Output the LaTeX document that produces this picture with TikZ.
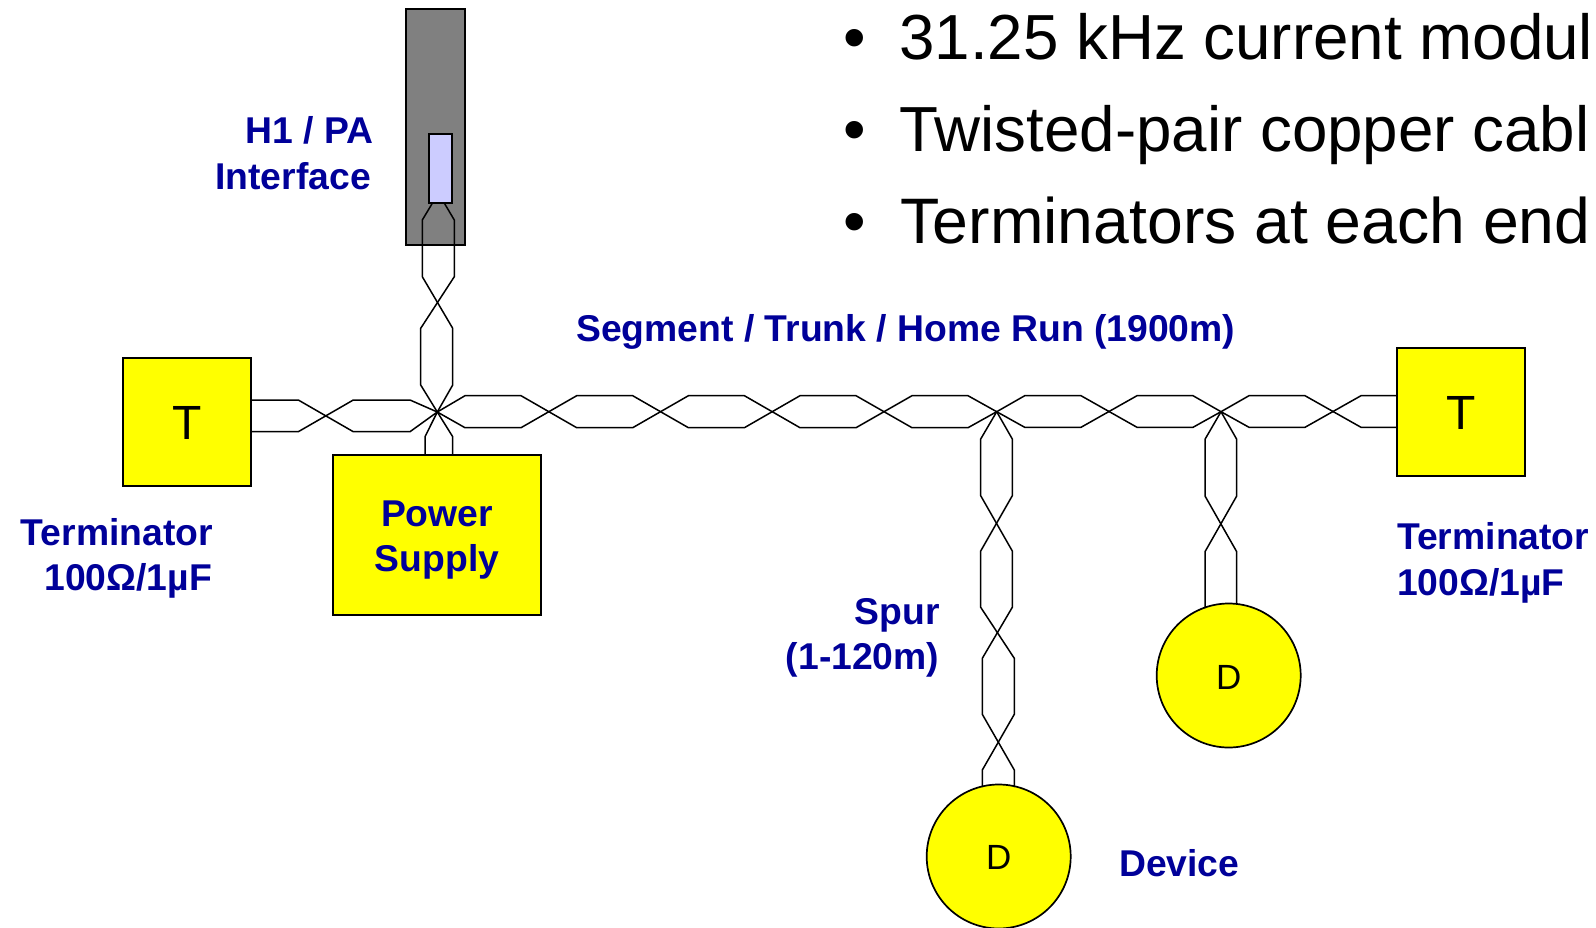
\documentclass[tikz,border=0pt]{standalone}
\usepackage{fontspec}
\setmainfont{Liberation Sans}
\definecolor{lblblue}{RGB}{0,0,153}
\definecolor{boxyellow}{RGB}{255,255,0}
\definecolor{slot}{RGB}{204,204,255}
\definecolor{housing}{RGB}{128,128,128}
\tikzset{
  wire/.style={draw=black,line width=1.5pt,line join=miter},
  box/.style={draw=black,line width=2pt,fill=boxyellow,inner sep=0pt,outer sep=0pt,anchor=north west},
  devc/.style={circle,draw=black,line width=1.7pt,fill=boxyellow,inner sep=0pt,outer sep=0pt,minimum size=144pt},
  lbl/.style={font=\fontsize{37.3}{45}\selectfont\bfseries,text=lblblue,inner sep=0pt},
  bigt/.style={font=\fontsize{48}{48}\selectfont,inner sep=0pt},
  smalld/.style={font=\fontsize{35}{35}\selectfont,inner sep=0pt},
  bul/.style={font=\fontsize{64.3}{64}\selectfont,inner sep=0pt,anchor=base west},
  bultight/.style={font=\fontsize{63.7}{64}\selectfont,inner sep=0pt,anchor=base west},
}
\begin{document}
\begin{tikzpicture}[x=1pt,y=-1pt]
\useasboundingbox (0,0) rectangle (1596,927);
\begin{scope}
\clip (0,0) rectangle (1596,927);
% housing
\node[draw=black,line width=2pt,fill=housing,inner sep=0pt,outer sep=0pt,anchor=north west,minimum width=58.3pt,minimum height=235.6pt] (iface) at (406.4,9.2) {};
\node[draw=black,line width=2pt,fill=slot,inner sep=0pt,outer sep=0pt,anchor=north west,minimum width=23.6pt,minimum height=69pt] (slotbox) at (428.7,133.6) {};
% junctions
\coordinate (j1) at (437.3,412);
\coordinate (j2) at (996.7,411.7);
\coordinate (j3) at (1221,411.7);
% terminators, supply, devices
\node[box,minimum width=128.3pt,minimum height=128pt] (tl) at (122.9,358) {};
\node[box,minimum width=128.6pt,minimum height=128pt] (tr) at (1396.7,347.7) {};
\node[box,minimum width=208pt,minimum height=160pt] (ps) at (333,455) {};
\node[devc] (d1) at (998.7,856.5) {};
\node[devc] (d2) at (1228.7,675.5) {};
\node[bigt] (tlt) at (186.7,423) {T};
\node[bigt] (trt) at (1461,413) {T};
\node[smalld] (d1t) at (998.7,857) {D};
\node[smalld] (d2t) at (1228.7,677) {D};
% horizontal trunk
\draw[wire] (tl.east |- 0,400) -- (298.3,400) -- (353.3,431.7) -- (410,431.7) -- (j1);
\draw[wire] (tl.east |- 0,431.7) -- (298.3,431.7) -- (353.3,400) -- (410,400) -- (j1);
\draw[wire] (j1) -- (465,395.7) -- (521,395.7) -- (576.7,427.7) -- (632.7,427.7) -- (688.4,395.7) -- (744.4,395.7) -- (800,427.7) -- (856,427.7) -- (912,395.7) -- (968,395.7) -- (j2)
  -- (1024.7,395.7) -- (1081,395.7) -- (1137,427.3) -- (1193,427.3) -- (j3)
  -- (1249,395.7) -- (1305,395.7) -- (1361,427.3) -- (tr.west |- 0,427.3);
\draw[wire] (j1) -- (465,427.7) -- (521,427.7) -- (576.7,395.7) -- (632.7,395.7) -- (688.4,427.7) -- (744.4,427.7) -- (800,395.7) -- (856,395.7) -- (912,427.7) -- (968,427.7) -- (j2)
  -- (1024.7,427.3) -- (1081,427.3) -- (1137,395.7) -- (1193,395.7) -- (j3)
  -- (1249,427.3) -- (1305,427.3) -- (1361,395.7) -- (tr.west |- 0,395.7);
% vertical interface wires
\draw[wire] (432.7,202.6) -- (422.3,220) -- (422.3,276.7) -- (452.7,328.3) -- (452.7,385) -- (j1);
\draw[wire] (444,202.6) -- (454.3,220) -- (454.3,276.7) -- (420.7,328.3) -- (420.7,385) -- (j1);
% supply wires
\draw[wire] (j1) -- (425,436.7) -- (425,455);
\draw[wire] (j1) -- (452.7,436.7) -- (452.7,455);
% spur 1
\draw[wire] (j2) -- (980.7,439) -- (980.7,495.7) -- (1012.3,551) -- (1012.3,607.3) -- (982.3,658.3) -- (982.3,714.3) -- (1014.3,770) -- (1014.3,787);
\draw[wire] (j2) -- (1012.3,439) -- (1012.3,495.7) -- (980.7,551) -- (980.7,607.3) -- (1014.3,658.3) -- (1014.3,714.3) -- (982.3,770) -- (982.3,787);
% spur 2
\draw[wire] (j3) -- (1205,439.3) -- (1205,496) -- (1236.7,551.7) -- (1236.7,604);
\draw[wire] (j3) -- (1236.7,439.3) -- (1236.7,496) -- (1205,551.7) -- (1205,608);
% labels
\node[lbl,anchor=base east,align=right] (l1) at (373.5,143) {H1 / PA};
\node[lbl,anchor=base east,align=right] (l2) at (371,189) {Interface};
\node[lbl,anchor=base west] (l3) at (576,341) {Segment / Trunk / Home Run (1900m)};
\node[lbl,anchor=base east] (l4) at (213,545) {Terminator};
\node[lbl,anchor=base east] (l5) at (212,590) {100Ω/1µF};
\node[lbl,anchor=base] (l6) at (437,526) {Power};
\node[lbl,anchor=base] (l7) at (437,571) {Supply};
\node[lbl,anchor=base east] (l8) at (940,624) {Spur};
\node[lbl,anchor=base east] (l9) at (939.5,669) {(1-120m)};
\node[lbl,anchor=base west] (l10) at (1397,549) {Terminator};
\node[lbl,anchor=base west] (l11) at (1397,595) {100Ω/1µF};
\node[lbl,anchor=base west] (l12) at (1119,876) {Device};
% bullets
\node[bul] (b1d) at (843,59) {•};
\node[bultight] (b1) at (899,59) {31.25 kHz current modul};
\node[bul] (b2d) at (843,151) {•};
\node[bultight] (b2) at (899,151) {Twisted-pair copper cabl};
\node[bul] (b3d) at (843,243) {•};
\node[bul] (b3) at (900.5,243) {Terminators at each end};
\end{scope}
\end{tikzpicture}
\end{document}
